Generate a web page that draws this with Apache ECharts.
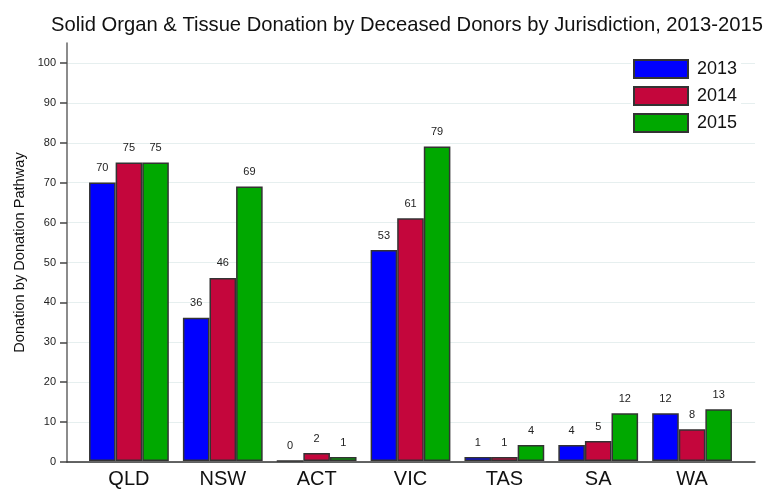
<!DOCTYPE html>
<html><head><meta charset="utf-8">
<script src="https://cdn.jsdelivr.net/npm/echarts@6/dist/echarts.min.js"></script>
<style>html,body{margin:0;padding:0;background:#fff}#c{width:784px;height:489px}</style>
</head><body><div id="c"></div>
<script>
const categories = ['QLD','NSW','ACT','VIC','TAS','SA','WA'];
const years = ['2013','2014','2015'];
const v2013 = [70,36,0,53,1,4,12];
const v2014 = [75,46,2,61,1,5,8];
const v2015 = [75,69,1,79,4,12,13];
const yTicks = [0,10,20,30,40,50,60,70,80,90,100];
const colors = ['#0000ff','#c4063c','#00a800'];
const FONT = 'Liberation Sans, Arial, sans-serif';
const chart = echarts.init(document.getElementById('c'));
const vals = [v2013, v2014, v2015];
chart.setOption({
  animation:false,
  textStyle:{fontFamily:FONT},
  title:{text:'Solid Organ & Tissue Donation by Deceased Donors by Jurisdiction, 2013-2015',left:402,top:10,textAlign:'center',
    textStyle:{fontSize:20.2,fontWeight:'normal',color:'#111',fontFamily:FONT}},
  legend:{data:years,orient:'vertical',left:631,top:57,itemWidth:54,itemHeight:18,itemGap:7,backgroundColor:'#fff',padding:[2,4,2,2],
    textStyle:{fontSize:18,color:'#111',fontFamily:FONT,padding:[0,0,0,4]},icon:'rect'},
  grid:[
    {left:67,right:29,top:63,bottom:27},
    {left:67,right:29,top:43,bottom:27},
    {left:82,right:45,top:63,bottom:27}
  ],
  xAxis:[
    {gridIndex:0,type:'value',min:0,max:1,axisLine:{show:true,lineStyle:{color:'#333',width:1.5}},axisTick:{show:false},axisLabel:{show:false},splitLine:{show:false}},
    {gridIndex:1,type:'value',min:0,max:1,show:false},
    {gridIndex:2,type:'category',data:categories,axisLine:{show:false},axisTick:{show:false},
      axisLabel:{fontSize:20,color:'#111',margin:8,fontFamily:FONT}}
  ],
  yAxis:[
    {gridIndex:0,type:'value',min:0,max:100,interval:10,
      axisLine:{show:false},axisTick:{show:true,length:7,lineStyle:{color:'#444',width:1.5}},
      axisLabel:{fontSize:11,color:'#222',margin:11,formatter:v=>yTicks.includes(v)?String(v):''},
      splitLine:{show:true,lineStyle:{color:'#e6efef',width:1}}},
    {gridIndex:1,type:'value',min:0,max:1,name:'Donation by Donation Pathway',nameLocation:'middle',nameGap:40,
      nameTextStyle:{fontSize:14.6,color:'#111',fontFamily:FONT},
      axisLine:{show:true,lineStyle:{color:'#666',width:1.5}},axisTick:{show:false},axisLabel:{show:false},splitLine:{show:false}},
    {gridIndex:2,type:'value',min:0,max:100,show:false,splitLine:{show:false}}
  ],
  series: years.map((y,i)=>({
    name:y,type:'bar',xAxisIndex:2,yAxisIndex:2,data:vals[i],barGap:'0%',barCategoryGap:'15%',
    itemStyle:{color:colors[i],borderColor:'#333',borderWidth:1.5},
    label:{show:true,position:'top',distance:9,fontSize:11,color:'#222',fontFamily:FONT}
  }))
});
</script></body></html>
